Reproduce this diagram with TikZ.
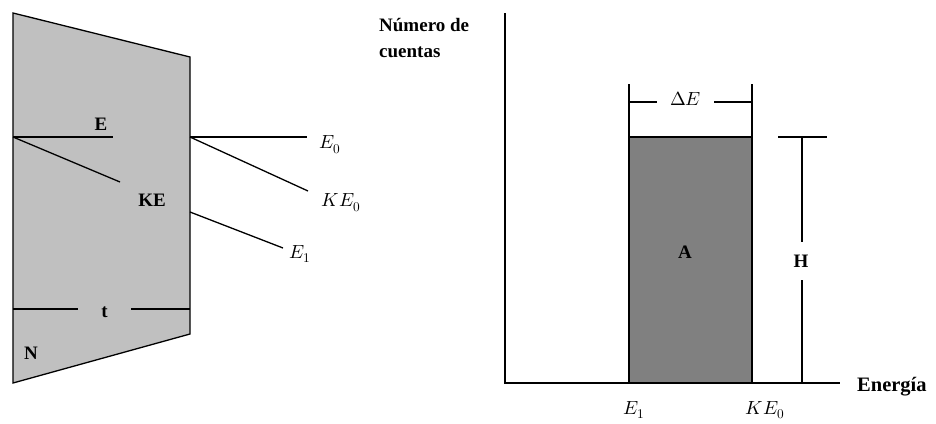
\documentclass[tikz,border=0pt]{standalone}
\usepackage{fontspec}
\setmainfont{Liberation Serif}
\usepackage{unicode-math}
\setmathfont{Latin Modern Math}
\definecolor{lightfill}{RGB}{192,192,192}
\definecolor{darkfill}{RGB}{128,128,128}
\begin{document}
\begin{tikzpicture}[x=1pt,y=-1pt,
  ln/.style={line width=1.3pt,black},
  lbl/.style={font=\bfseries\fontsize{19}{22}\selectfont,inner sep=0pt},
  mlbl/.style={font=\fontsize{19}{22}\selectfont,inner sep=0pt}]
\useasboundingbox (0,0) rectangle (936,423);
% ---- left slab ----
\coordinate (TL) at (13,13);
\coordinate (TR) at (190,57);
\coordinate (BR) at (190,334);
\coordinate (BL) at (13,383);
\draw[ln,fill=lightfill] (TL) -- (TR) -- (BR) -- (BL) -- cycle;
\coordinate (P) at (13,137);
\coordinate (Q) at (190,137);
\coordinate (R) at (190,212);
\coordinate (Eend) at (113,137);
\coordinate (KEend) at (120,182);
\draw[ln] (P) -- (Eend);
\draw[ln] (P) -- (KEend);
\node[lbl] (Elab) at (101,124) {E};
\node[lbl] (KElab) at (152,200) {KE};
% t dimension
\node[lbl,minimum width=53pt] (tlab) at (104.5,312) {t};
\coordinate (tL) at (13,309);
\coordinate (tR) at (190,309);
\draw[ln] (tL) -- (tlab.west|-tL);
\draw[ln] (tlab.east|-tR) -- (tR);
\node[lbl] (Nlab) at (31,353) {N};
% outgoing lines
\node[mlbl] (E0lab) at (330,145) {$E_0$};
\node[mlbl] (KE0lab) at (341,203) {$KE_0$};
\node[mlbl] (E1lab) at (300,254) {$E_1$};
\coordinate (E0end) at (307,137);
\coordinate (KE0end) at (308,191);
\coordinate (E1end) at (283,248);
\draw[ln] (Q) -- (E0end);
\draw[ln] (Q) -- (KE0end);
\draw[ln] (R) -- (E1end);
% ---- right chart ----
\coordinate (O) at (505,383);
\coordinate (Ytop) at (505,13);
\coordinate (Xend) at (840,383);
\draw[ln] (Ytop) -- (O) -- (Xend);
\node[anchor=north west,inner sep=0pt,font=\bfseries\fontsize{19}{26}\selectfont,align=left] (ylab) at (379,18) {Número de\\cuentas};
\node[anchor=base west,inner sep=0pt,font=\bfseries\fontsize{20.5}{24}\selectfont] (xlab) at (857,391) {Energía};
% bar
\coordinate (b1) at (629,383);
\coordinate (b2) at (752,137);
\draw[ln,fill=darkfill] (b1) rectangle (b2);
\node[lbl] (Alab) at (685,252) {A};
% Delta E bracket
\coordinate (d1t) at (629,84);
\coordinate (d2t) at (752,84);
\coordinate (d1b) at (629,137);
\coordinate (d2b) at (752,137);
\draw[ln] (d1t) -- (d1b);
\draw[ln] (d2t) -- (d2b);
\node[mlbl,minimum width=57pt] (dElab) at (685.5,99) {$\Delta E$};
\coordinate (dy1) at (629,102);
\coordinate (dy2) at (752,102);
\draw[ln] (dy1) -- (dElab.west|-dy1);
\draw[ln] (dElab.east|-dy2) -- (dy2);
% H dimension
\coordinate (h1) at (778,137);
\coordinate (h2) at (827,137);
\draw[ln] (h1) -- (h2);
\node[lbl,minimum height=38pt] (Hlab) at (801,261) {H};
\coordinate (hv) at (802,137);
\coordinate (hb) at (802,383);
\draw[ln] (hv) -- (hv|-Hlab.north);
\draw[ln] (hb|-Hlab.south) -- (hb);
% tick labels
\node[mlbl] (E1x) at (634,410) {$E_1$};
\node[mlbl] (KE0x) at (765,410) {$KE_0$};
\end{tikzpicture}
\end{document}
